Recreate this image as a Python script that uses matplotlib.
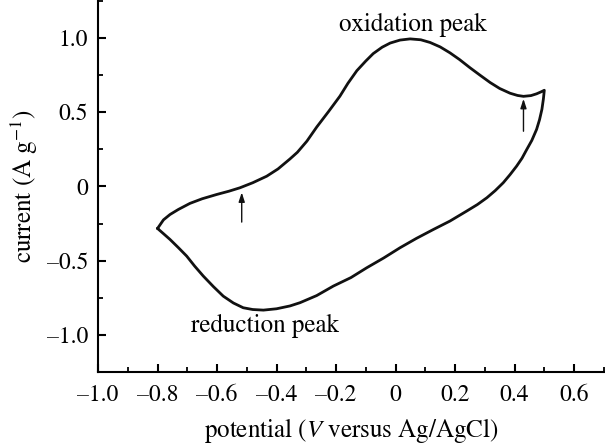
import matplotlib
matplotlib.use("Agg")
import matplotlib.pyplot as plt
from matplotlib.ticker import MultipleLocator, FuncFormatter

# ---- data ----
# anodic (upper) branch, scanning from -0.8 V to 0.5 V
upper_potential = [-0.800, -0.780, -0.758, -0.730, -0.691, -0.650, -0.601, -0.560, -0.523,
                   -0.480, -0.433, -0.395, -0.355, -0.330, -0.298, -0.265, -0.225, -0.187,
                   -0.160, -0.130, -0.100, -0.075, -0.045, -0.018, 0.015, 0.049, 0.085,
                   0.116, 0.150, 0.183, 0.215, 0.250, 0.285, 0.318, 0.350, 0.385, 0.410,
                   0.430, 0.455, 0.474, 0.490, 0.500]
upper_current = [-0.283, -0.225, -0.189, -0.155, -0.114, -0.083, -0.054, -0.032, -0.009,
                 0.025, 0.069, 0.118, 0.185, 0.230, 0.305, 0.400, 0.505, 0.608,
                 0.695, 0.780, 0.845, 0.895, 0.938, 0.966, 0.986, 0.994, 0.988,
                 0.970, 0.940, 0.900, 0.855, 0.800, 0.748, 0.700, 0.660, 0.628, 0.613,
                 0.607, 0.612, 0.624, 0.638, 0.648]

# cathodic (lower) branch, scanning back from 0.5 V to -0.8 V
lower_potential = [0.500, 0.497, 0.492, 0.484, 0.474, 0.458, 0.441, 0.425, 0.407, 0.385,
                   0.362, 0.335, 0.307, 0.275, 0.239, 0.183, 0.127, 0.070, 0.015,
                   -0.040, -0.097, -0.150, -0.209, -0.265, -0.321, -0.355, -0.400,
                   -0.444, -0.480, -0.512, -0.545, -0.579, -0.612, -0.646, -0.675,
                   -0.702, -0.730, -0.758, -0.780, -0.800]
lower_current = [0.648, 0.590, 0.520, 0.450, 0.384, 0.310, 0.249, 0.190, 0.137, 0.080,
                 0.025, -0.028, -0.076, -0.122, -0.166, -0.233, -0.290, -0.350, -0.413,
                 -0.482, -0.548, -0.614, -0.671, -0.735, -0.783, -0.805, -0.824,
                 -0.833, -0.829, -0.817, -0.785, -0.739, -0.675, -0.604, -0.537,
                 -0.469, -0.412, -0.357, -0.318, -0.283]

x_major_ticks = [-1.0, -0.8, -0.6, -0.4, -0.2, 0.0, 0.2, 0.4, 0.6]
y_major_ticks = [-1.0, -0.5, 0.0, 0.5, 1.0]

annotations = ["oxidation peak", "reduction peak"]
arrow_potentials = [-0.517, 0.430]
arrow_tails = [-0.24, 0.372]
arrow_heads = [-0.04, 0.59]

# ---- style ----
plt.rcParams['font.family'] = ['STIXGeneral', 'DejaVu Serif']
plt.rcParams['mathtext.fontset'] = 'stix'
FS_TICK = 17
FS_TEXT = 18

fig = plt.figure(figsize=(6.05, 4.45), dpi=100)
ax = fig.add_axes([0.162, 0.164, 0.838, 0.836])

ax.plot(upper_potential + lower_potential[1:], upper_current + lower_current[1:],
        color='#111111', lw=2.0, solid_joinstyle='round', solid_capstyle='round')

for xp, yt, yh in zip(arrow_potentials, arrow_tails, arrow_heads):
    ax.annotate("", xy=(xp, yh), xytext=(xp, yt),
                arrowprops=dict(arrowstyle='-|>,head_length=0.55,head_width=0.18',
                                color='#111111', lw=1.0, shrinkA=0, shrinkB=0))

ax.text(0.059, 1.05, annotations[0], ha='center', va='baseline', fontsize=FS_TEXT)
ax.text(-0.687, -0.983, annotations[1], ha='left', va='baseline', fontsize=FS_TEXT)

ax.set_xlim(-1.0, 0.704)
ax.set_ylim(-1.25, 1.256)

for s in ['top', 'right']:
    ax.spines[s].set_visible(False)
for s in ['left', 'bottom']:
    ax.spines[s].set_linewidth(1.5)

ax.set_xticks(x_major_ticks)
ax.set_yticks(y_major_ticks)
ax.xaxis.set_minor_locator(MultipleLocator(0.1))
ax.yaxis.set_minor_locator(MultipleLocator(0.25))

def fmt(v, pos):
    if abs(v) < 1e-9:
        return "0"
    return ("\u2013" if v < 0 else "") + f"{abs(v):.1f}"

ax.xaxis.set_major_formatter(FuncFormatter(fmt))
ax.yaxis.set_major_formatter(FuncFormatter(fmt))

ax.tick_params(which='major', direction='in', length=6, width=1.5, labelsize=FS_TICK, pad=9)
ax.tick_params(which='minor', direction='in', length=3.5, width=1.3)
ax.tick_params(axis='y', which='major', pad=7)

ax.set_xlabel(r"potential ($\mathit{V}$ versus Ag/AgCl)", fontsize=FS_TEXT, labelpad=7)
ax.set_ylabel(r"current (A g$^{-1}$)", fontsize=FS_TEXT, labelpad=5)

fig.savefig("out.png", dpi=100)
